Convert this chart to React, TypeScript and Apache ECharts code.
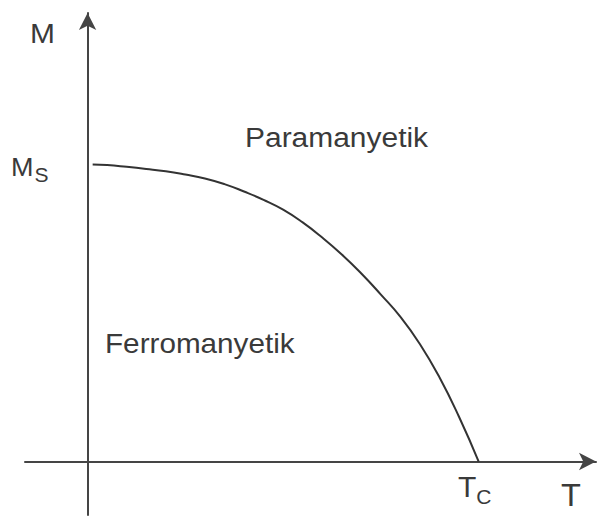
import React, { useEffect, useRef } from "react";
import * as echarts from "echarts";

// Reduced temperature T/Tc and reduced magnetisation M/Ms along the curve
const tValues = [0.013, 0.05, 0.1, 0.15, 0.2, 0.25, 0.3, 0.35, 0.4, 0.45, 0.5, 0.55, 0.6, 0.65, 0.7, 0.75, 0.8, 0.85, 0.9, 0.95, 1.0];
const mValues = [1.0, 0.998, 0.992, 0.985, 0.977, 0.966, 0.953, 0.934, 0.909, 0.881, 0.848, 0.805, 0.754, 0.697, 0.633, 0.562, 0.487, 0.395, 0.283, 0.15, 0.0];

// Axis extents (axes cross at the origin, with short stubs past it)
const tRange = [-0.16, 1.30];
const mRange = [-0.18, 1.51];

// Marked axis values: Curie temperature on T, saturation magnetisation on M
const curieTemp = 1;
const saturation = 1;

// Axis titles and region captions
const axisTitles = ["M", "T"];
const regionLabels = ["Paramanyetik", "Ferromanyetik"];

const INK = "#3a3a3a";
const FONT = '"Liberation Sans", Arial, sans-serif';

function text(x: number, y: number, str: string, size: number, align: string, scaleX = 1) {
  return {
    type: "text",
    x,
    y,
    scaleX,
    silent: true,
    style: { text: str, fontFamily: FONT, fontSize: size, fill: INK, align, verticalAlign: "middle" },
  };
}

export default function App() {
  const ref = useRef<HTMLDivElement>(null);

  useEffect(() => {
    if (!ref.current) return;
    const chart = echarts.init(ref.current, null, { renderer: "svg" });
    const data = tValues.map((t, i) => [t, mValues[i]]);

    const axisLine = {
      onZero: true,
      symbol: ["none", "arrow"],
      symbolSize: [13, 17],
      lineStyle: { color: "#454545", width: 2 },
    };

    chart.setOption({
      animation: false,
      grid: { left: 25, right: 10, top: 13, bottom: 2, containLabel: false, outerBoundsMode: "none" },
      xAxis: {
        type: "value",
        min: tRange[0],
        max: tRange[1],
        splitLine: { show: false },
        axisTick: { show: false },
        axisLabel: { show: false },
        axisLine,
      },
      yAxis: {
        type: "value",
        min: mRange[0],
        max: mRange[1],
        splitLine: { show: false },
        axisTick: { show: false },
        axisLabel: { show: false },
        axisLine,
      },
      series: [
        {
          type: "line",
          data,
          smooth: true,
          showSymbol: false,
          silent: true,
          lineStyle: { color: "#333333", width: 2 },
        },
      ],
    });

    // Place the Ms and Tc marks at their values on the axes
    const [ox, msY] = chart.convertToPixel({ gridIndex: 0 }, [0, saturation]) as number[];
    const [tcX, oy] = chart.convertToPixel({ gridIndex: 0 }, [curieTemp, 0]) as number[];

    chart.setOption({
      graphic: [
        text(42.5, 33, axisTitles[0], 28, "center", 1.07),
        text(571, 495, axisTitles[1], 31, "center", 1.05),
        text(245, 137, regionLabels[0], 28, "left", 1.07),
        text(105, 343, regionLabels[1], 28, "left", 1.06),
        text(ox - 54, msY + 2.5, "M", 25, "right", 1.08),
        text(ox - 53, msY + 10.5, "S", 21, "left", 1.0),
        text(tcX - 11.5, oy + 25, "T", 30, "center", 1.0),
        text(tcX - 2.5, oy + 34.5, "C", 21, "left", 1.0),
      ],
    });

    return () => chart.dispose();
  }, []);

  return (
    <div
      ref={ref}
      style={{ position: "fixed", left: 0, top: 0, width: 606, height: 517, background: "#ffffff" }}
    />
  );
}
